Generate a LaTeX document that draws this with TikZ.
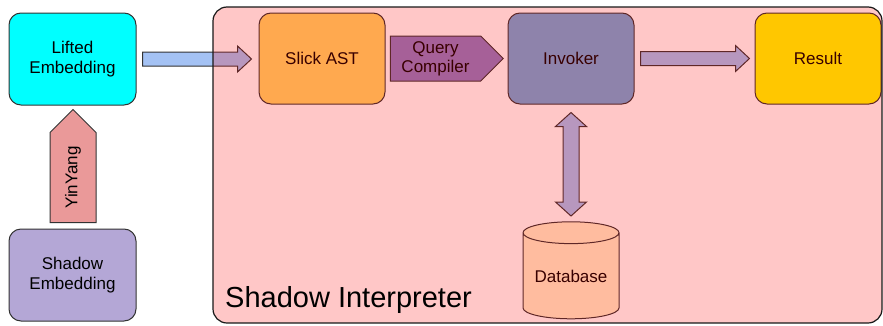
\documentclass[tikz,border=0pt]{standalone}
\usepackage{fontspec}
\setmainfont{Liberation Sans}
\usetikzlibrary{calc,shapes.symbols,shapes.geometric}
\definecolor{LiftedClr}{HTML}{00FFFF}
\definecolor{ShadowClr}{HTML}{B4A7D6}
\definecolor{YinYangClr}{HTML}{EA9999}
\definecolor{FlowClr}{HTML}{A4C2F4}
\definecolor{SlickClr}{HTML}{FFD966}
\definecolor{QueryClr}{HTML}{8E7CC3}
\definecolor{InvokerClr}{HTML}{6FA8DC}
\definecolor{ResultClr}{HTML}{FFFF00}
\definecolor{DbClr}{HTML}{FFF2CC}
\definecolor{EdgeClr}{HTML}{333333}

\tikzset{
  stage/.style={draw=EdgeClr,line width=1pt,rounded corners=12pt,
    minimum width=126pt,minimum height=91pt,inner sep=0pt,align=center,
    font=\fontsize{17}{20}\selectfont},
  flow/.style={draw=EdgeClr,line width=1pt,fill=FlowClr,line join=miter}
}

% horizontal block arrow: tail point, tip point
\newcommand{\FlowRight}[2]{%
  \draw[flow] let \p1=#1, \p2=#2 in
    (\x1,\y1+7pt) -- (\x2-14pt,\y1+7pt) -- (\x2-14pt,\y1+13pt) -- (\x2,\y1)
    -- (\x2-14pt,\y1-13pt) -- (\x2-14pt,\y1-7pt) -- (\x1,\y1-7pt) -- cycle;}
% vertical two-headed block arrow: upper tip, lower tip
\newcommand{\FlowBoth}[2]{%
  \draw[flow] let \p1=#1, \p2=#2 in
    (\x1,\y1) -- (\x1+15.5pt,\y1-14pt) -- (\x1+8pt,\y1-14pt) -- (\x1+8pt,\y2+14pt)
    -- (\x1+15.5pt,\y2+14pt) -- (\x1,\y2) -- (\x1-15.5pt,\y2+14pt) -- (\x1-8pt,\y2+14pt)
    -- (\x1-8pt,\y1-14pt) -- (\x1-15.5pt,\y1-14pt) -- cycle;}

\begin{document}
\begin{tikzpicture}[x=1pt,y=1pt]
\useasboundingbox (0,0) rectangle (883,325);

\node[stage,fill=LiftedClr,minimum width=127pt,minimum height=92pt] (lifted) at (72.5,266) {Lifted\\Embedding};
\node[stage,fill=ShadowClr,minimum width=127pt,minimum height=92pt] (shadow) at (72.5,50) {Shadow\\Embedding};

\node[signal,signal to=east,rotate=90,draw=EdgeClr,line width=1pt,fill=YinYangClr,
  minimum width=113pt,minimum height=46pt,inner sep=0pt,font=\fontsize{17}{20}\selectfont]
  (yinyang) at (73,147.5) {YinYang};

\node[stage,fill=SlickClr] (slick) at (322,266.5) {Slick AST};
\node[stage,fill=InvokerClr] (invoker) at (571,266.5) {Invoker};
\node[stage,fill=ResultClr] (result) at (818,266.5) {Result};

\node[signal,signal to=east,draw=EdgeClr,line width=1pt,fill=QueryClr,
  minimum width=113pt,minimum height=45pt,inner sep=0pt,align=center,
  font=\fontsize{17}{19}\selectfont] (query) at (435.5,266.5) {Query\\Compiler};

\node[cylinder,shape border rotate=90,aspect=0.3,draw=EdgeClr,line width=1pt,fill=DbClr,
  minimum width=96pt,minimum height=97pt,inner sep=0pt,font=\fontsize{17}{20}\selectfont]
  (database) at (571,49) {Database};

\FlowRight{($(lifted.east)+(6,0)$)}{($(slick.west)+(-7,0)$)}
\FlowRight{($(invoker.east)+(6,0)$)}{($(result.west)+(-5,0)$)}
\FlowBoth{($(invoker.south)+(0,-8)$)}{($(database.center)+(0,60)$)}

% interpreter frame goes on top as a tinted sheet
\node[draw=black!90,line width=1.2pt,fill=red,fill opacity=0.22,rounded corners=14pt,
  minimum width=669pt,minimum height=316pt,inner sep=0pt] (interp) at (547.5,160) {};
\node[anchor=base west,inner sep=0pt,font=\fontsize{29}{32}\selectfont] (interplabel) at (225,18) {Shadow Interpreter};

\end{tikzpicture}
\end{document}
